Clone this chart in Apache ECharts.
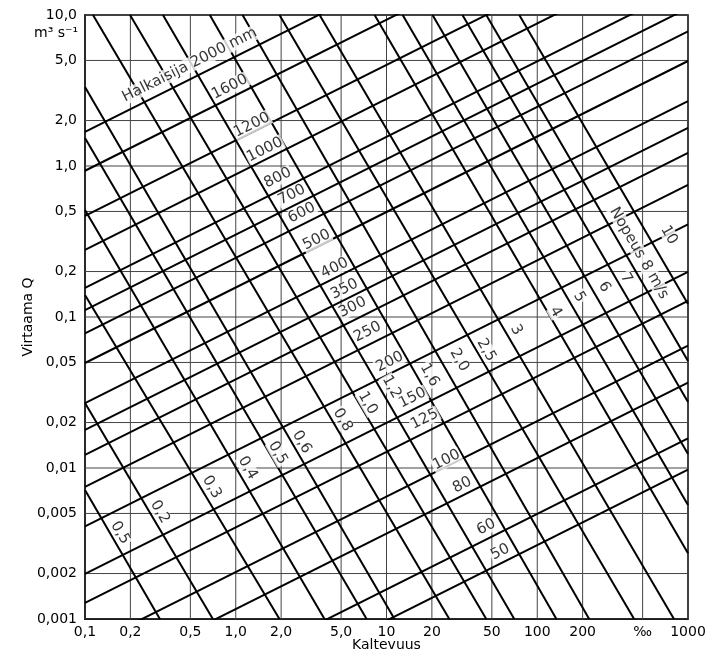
<!DOCTYPE html>
<html><head><meta charset="utf-8">
<script src="https://cdn.jsdelivr.net/npm/echarts@6/dist/echarts.min.js"></script>
<style>html,body{margin:0;padding:0;background:#fff}#c{width:710px;height:653px}</style>
</head><body><div id="c"></div>
<script>
// ---- axis ticks ----
const xTicks = [0.1, 0.2, 0.5, 1, 2, 5, 10, 20, 50, 100, 200, 500, 1000];
const xTickLabels = ['0,1', '0,2', '0,5', '1,0', '2,0', '5,0', '10', '20', '50', '100', '200', '‰', '1000'];
const yTicks = [0.001, 0.002, 0.005, 0.01, 0.02, 0.05, 0.1, 0.2, 0.5, 1, 2, 5, 10];
const yTickLabels = ['0,001', '0,002', '0,005', '0,01', '0,02', '0,05', '0,1', '0,2', '0,5', '1,0', '2,0', '5,0', '10,0'];

// ---- diameter lines (mm): flow Q (m3/s) at slope 0.1 ‰ and at 1000 ‰ ----
const diameters = [2000, 1600, 1200, 1000, 800, 700, 600, 500, 400, 350, 300, 250, 200, 150, 125, 100, 80, 60, 50];
const diamQLeft = [1.68, 0.93, 0.467, 0.278, 0.156, 0.111, 0.078, 0.0496, 0.0269, 0.0179, 0.0122, 0.0075, 0.0041, 0.00199, 0.00128, 0.000647, 0.000368, 0.000157, 0.0000976];
const diamQRight = [168, 93, 46.7, 27.8, 15.6, 11.1, 7.8, 4.96, 2.69, 1.79, 1.22, 0.75, 0.41, 0.199, 0.128, 0.0647, 0.0368, 0.0157, 0.00976];

// ---- velocity lines (m/s): start and end points where they meet the frame ----
const velocities = [0.15, 0.2, 0.3, 0.4, 0.5, 0.6, 0.8, 1.0, 1.2, 1.6, 2.0, 2.5, 3, 4, 5, 6, 7, 8, 10];
const velStartS = [0.1, 0.1, 0.1, 0.1, 0.1, 0.1, 0.113, 0.199, 0.329, 0.673, 1.11, 1.95, 3.60, 8.34, 12.8, 20.2, 31.9, 45.9, 76.0];
const velStartQ = [0.00714, 0.0269, 0.140, 0.512, 1.53, 3.34, 10, 10, 10, 10, 10, 10, 10, 10, 10, 10, 10, 10, 10];
const velEndS = [0.314, 0.705, 1.95, 3.88, 7.38, 11.3, 26.1, 45.9, 70.4, 134, 221, 439, 807, 1000, 1000, 1000, 1000, 1000, 1000];
const velEndQ = [0.001, 0.001, 0.001, 0.001, 0.001, 0.001, 0.001, 0.001, 0.001, 0.001, 0.001, 0.001, 0.001, 0.00273, 0.00569, 0.0124, 0.0274, 0.0512, 0.122];

// ---- line labels ----
const diamLabelText = ['Halkaisija 2000 mm', '1600', '1200', '1000', '800', '700', '600', '500', '400', '350', '300', '250', '200', '150', '125', '100', '80', '60', '50'];
const diamLabelS = [0.495, 0.912, 1.28, 1.56, 1.90, 2.35, 2.74, 3.44, 4.53, 5.27, 5.96, 7.49, 10.5, 14.9, 17.9, 25.0, 31.8, 45.9, 56.9];
const diamLabelQ = [4.67, 3.34, 1.87, 1.28, 0.833, 0.643, 0.489, 0.324, 0.211, 0.153, 0.116, 0.0796, 0.0504, 0.0291, 0.0211, 0.0113, 0.00771, 0.00406, 0.00278];
const velLabelText = ['0,5', '0,2', '0,3', '0,4', '0,5', '0,6', '0,8', '1,0', '1,2', '1,6', '2,0', '2,5', '3', '4', '5', '6', '7', 'Nopeus 8 m/s', '10'];
const velLabelS = [0.171, 0.314, 0.693, 1.20, 1.90, 2.74, 5.12, 7.49, 10.8, 19.3, 30.4, 45.9, 72.6, 132, 190, 278, 388, 473, 748];
const velLabelQ = [0.00372, 0.00512, 0.00748, 0.0100, 0.01257, 0.01486, 0.0208, 0.0269, 0.0344, 0.0413, 0.0519, 0.0604, 0.082, 0.108, 0.1356, 0.158, 0.181, 0.265, 0.349];

const FONT = 'DejaVu Sans';
function lookup(vals, texts) {
  return function (v) {
    let best = 0, bd = 1e9;
    vals.forEach((t, i) => { const d = Math.abs(Math.log10(v) - Math.log10(t)); if (d < bd) { bd = d; best = i; } });
    return bd < 0.01 ? texts[best] : '';
  };
}

const chart = echarts.init(document.getElementById('c'));
const series = [];
const xMin = xTicks[0], xMax = xTicks[xTicks.length - 1];
const yMin = yTicks[0], yMax = yTicks[yTicks.length - 1];
xTicks.forEach(v => series.push({
  type: 'line', data: [[v, yMin], [v, yMax]], symbol: 'none', silent: true, animation: false, z: 1,
  lineStyle: { color: '#444', width: 1 }
}));
yTicks.forEach(v => series.push({
  type: 'line', data: [[xMin, v], [xMax, v]], symbol: 'none', silent: true, animation: false, z: 1,
  lineStyle: { color: '#444', width: 1 }
}));
diameters.forEach((d, i) => series.push({
  type: 'line', name: d + ' mm', data: [[xMin, diamQLeft[i]], [xMax, diamQRight[i]]], symbol: 'none', silent: true,
  animation: false, clip: true, z: 3, lineStyle: { color: '#000', width: 2 }
}));
velocities.forEach((v, i) => series.push({
  type: 'line', name: v + ' m/s', data: [[velStartS[i], velStartQ[i]], [velEndS[i], velEndQ[i]]], symbol: 'none', silent: true,
  animation: false, clip: true, z: 3, lineStyle: { color: '#000', width: 2 }
}));
const labelStyle = { show: true, position: 'inside', color: '#000', fontFamily: FONT, fontSize: 15, backgroundColor: '#fff', padding: [0, 1] };
series.push({
  type: 'scatter', symbolSize: 0, silent: true, animation: false, z: 10,
  data: diamLabelS.map((s, i) => ({ value: [s, diamLabelQ[i]], label: { formatter: diamLabelText[i] } })),
  label: Object.assign({ rotate: 26.6 }, labelStyle)
});
series.push({
  type: 'scatter', symbolSize: 0, silent: true, animation: false, z: 10,
  data: velLabelS.map((s, i) => ({ value: [s, velLabelQ[i]], label: { formatter: velLabelText[i] } })),
  label: Object.assign({ rotate: -60 }, labelStyle)
});

chart.setOption({
  animation: false,
  backgroundColor: '#fff',
  grid: { left: 85, right: 22, top: 15, bottom: 34, outerBoundsMode: 'none', containLabel: false,
          show: true, borderColor: '#000', borderWidth: 1.5, backgroundColor: 'transparent' },
  xAxis: {
    type: 'log', logBase: 10, min: xMin, max: xMax,
    splitLine: { show: false }, axisTick: { show: false },
    axisLine: { lineStyle: { color: '#000', width: 1.5 } },
    axisLabel: { customValues: xTicks, formatter: lookup(xTicks, xTickLabels), color: '#000', fontFamily: FONT, fontSize: 14, margin: 6 },
    name: 'Kaltevuus', nameLocation: 'middle', nameGap: 19, nameMoveOverlap: false,
    nameTextStyle: { color: '#000', fontFamily: FONT, fontSize: 14 }
  },
  yAxis: {
    type: 'log', logBase: 10, min: yMin, max: yMax,
    splitLine: { show: false }, axisTick: { show: false },
    axisLine: { lineStyle: { color: '#000', width: 1.5 } },
    axisLabel: { customValues: yTicks, formatter: lookup(yTicks, yTickLabels), color: '#000', fontFamily: FONT, fontSize: 14, margin: 8 },
    name: 'Virtaama Q', nameLocation: 'middle', nameGap: 50, nameRotate: 90, nameMoveOverlap: false,
    nameTextStyle: { color: '#000', fontFamily: FONT, fontSize: 14 }
  },
  graphic: [{
    type: 'text', right: 710 - 78, top: 26,
    style: { text: 'm³ s⁻¹', fill: '#000', font: '14px "DejaVu Sans"', textAlign: 'right' }
  }],
  series: series
});
</script>
</body></html>
